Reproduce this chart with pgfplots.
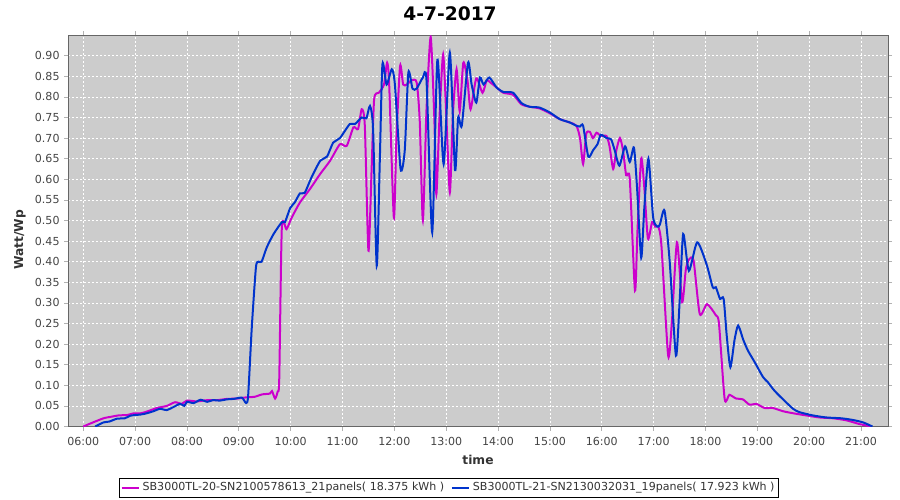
\documentclass[border=0pt]{standalone}
\usepackage{fontspec}
\setmainfont{DejaVu Sans}
\usepackage{pgfplots}
\pgfplotsset{compat=1.18}
\definecolor{plotbg}{HTML}{CCCCCC}
\definecolor{magline}{HTML}{CC00CC}
\definecolor{blueline}{HTML}{0033CC}
\definecolor{ticktext}{HTML}{444444}
\definecolor{labeltext}{HTML}{333333}

\begin{document}
\begin{tikzpicture}[x=1pt,y=1pt]
\useasboundingbox (0,0) rectangle (675,375);
\begin{axis}[
  at={(51.2pt,55.1pt)}, anchor=south west,
  scale only axis, width=614.8pt, height=293.6pt,
  xmin=5.711, xmax=21.52, ymin=0, ymax=0.95,
  axis background/.style={fill=plotbg},
  axis line style={draw=gray!80!black, line width=0.7pt},
  xtick={6,7,8,9,10,11,12,13,14,15,16,17,18,19,20,21},
  xticklabels={06:00,07:00,08:00,09:00,10:00,11:00,12:00,13:00,14:00,15:00,16:00,17:00,18:00,19:00,20:00,21:00},
  ytick={0,0.05,0.10,0.15,0.20,0.25,0.30,0.35,0.40,0.45,0.50,0.55,0.60,0.65,0.70,0.75,0.80,0.85,0.90},
  /pgf/number format/assume math mode=true,
  yticklabel style={/pgf/number format/fixed, /pgf/number format/fixed zerofill, /pgf/number format/precision=2},
  xticklabel style={yshift=-1.5pt},
  ticklabel style={font=\fontsize{8.3}{10}\selectfont, text=ticktext},
  grid=major,
  grid style={white, dash pattern=on 1.5pt off 1.5pt, line width=0.5pt},
  tick align=outside, major tick length=3pt, tick style={gray!60, line width=0.5pt},
  legend style={at={(axis description cs:0.4644,-0.1558)}, anchor=center,
    legend columns=2, draw=black, line width=0.6pt, fill=white,
    font=\fontsize{8.3}{10}\selectfont, inner sep=1.2pt,
    /tikz/every even column/.append style={column sep=3pt}},
  legend image code/.code={\draw[#1, line width=1.5pt] (0pt,0pt) -- (13pt,0pt);},
]
\addplot[magline, line width=1.5pt, smooth, tension=0.4] coordinates {
(6.00,0.000)(6.15,0.008)(6.39,0.020)(6.55,0.024)(6.68,0.027)(6.85,0.028)
(6.97,0.032)(7.10,0.032)(7.22,0.036)(7.42,0.045)(7.61,0.050)(7.77,0.059)
(7.90,0.055)(8.00,0.063)(8.19,0.061)(8.39,0.064)(8.58,0.064)(8.77,0.067)
(8.97,0.068)(9.16,0.071)(9.30,0.072)(9.45,0.078)(9.60,0.080)(9.64,0.086)
(9.70,0.068)(9.75,0.085)(9.78,0.116)(9.83,0.483)(9.92,0.479)(10.02,0.507)
(10.18,0.544)(10.37,0.576)(10.57,0.613)(10.76,0.645)(10.95,0.685)(11.08,0.681)
(11.21,0.726)(11.30,0.722)(11.37,0.770)(11.43,0.730)(11.50,0.427)(11.56,0.620)
(11.61,0.794)(11.70,0.810)(11.80,0.830)(11.86,0.883)(11.90,0.830)(11.99,0.507)
(12.04,0.700)(12.11,0.875)(12.17,0.830)(12.24,0.830)(12.33,0.840)(12.43,0.835)
(12.49,0.740)(12.55,0.500)(12.62,0.770)(12.70,0.945)(12.77,0.750)(12.81,0.564)
(12.87,0.750)(12.94,0.903)(13.00,0.760)(13.07,0.568)(13.13,0.760)(13.20,0.867)
(13.26,0.765)(13.33,0.883)(13.41,0.840)(13.47,0.770)(13.58,0.845)(13.70,0.810)
(13.78,0.840)(13.85,0.835)(13.97,0.823)(14.10,0.810)(14.29,0.805)(14.45,0.782)
(14.61,0.776)(14.80,0.772)(15.00,0.760)(15.19,0.746)(15.38,0.738)(15.51,0.730)
(15.58,0.700)(15.64,0.637)(15.70,0.710)(15.77,0.715)(15.83,0.700)(15.90,0.713)
(15.98,0.705)(16.09,0.705)(16.15,0.680)(16.22,0.625)(16.28,0.670)(16.35,0.700)
(16.41,0.670)(16.47,0.610)(16.54,0.600)(16.64,0.330)(16.69,0.480)(16.76,0.650)
(16.82,0.580)(16.89,0.456)(16.97,0.496)(17.03,0.485)(17.09,0.485)(17.15,0.440)
(17.28,0.172)(17.35,0.250)(17.45,0.447)(17.55,0.302)(17.62,0.380)(17.68,0.405)
(17.77,0.403)(17.89,0.273)(18.03,0.297)(18.20,0.270)(18.26,0.250)(18.37,0.067)
(18.46,0.077)(18.59,0.068)(18.72,0.066)(18.85,0.053)(18.98,0.055)(19.14,0.045)
(19.30,0.045)(19.50,0.037)(19.70,0.032)(19.94,0.027)(20.20,0.022)(20.46,0.020)
(20.72,0.015)(20.97,0.006)(21.20,0.000)
};
\addlegendentry{\textcolor{labeltext}{SB3000TL-20-SN2100578613\_21panels( 18.375 kWh )}}
\addplot[blueline, line width=1.5pt, smooth, tension=0.4] coordinates {
(6.23,0.000)(6.39,0.010)(6.50,0.012)(6.65,0.019)(6.80,0.020)(6.90,0.026)
(7.00,0.028)(7.10,0.029)(7.22,0.032)(7.35,0.037)(7.48,0.043)(7.61,0.040)
(7.75,0.048)(7.87,0.055)(7.95,0.050)(8.00,0.060)(8.13,0.057)(8.26,0.065)
(8.39,0.060)(8.50,0.064)(8.64,0.063)(8.77,0.066)(8.90,0.067)(9.06,0.070)
(9.14,0.057)(9.18,0.075)(9.25,0.240)(9.33,0.386)(9.38,0.400)(9.44,0.400)
(9.54,0.435)(9.67,0.467)(9.83,0.496)(9.89,0.496)(9.99,0.530)(10.08,0.544)
(10.18,0.566)(10.27,0.567)(10.40,0.604)(10.57,0.645)(10.70,0.655)(10.82,0.689)
(10.95,0.700)(11.14,0.734)(11.24,0.734)(11.37,0.750)(11.46,0.748)(11.53,0.778)
(11.59,0.720)(11.66,0.390)(11.72,0.650)(11.77,0.879)(11.85,0.830)(11.95,0.867)
(12.01,0.830)(12.12,0.625)(12.20,0.670)(12.27,0.859)(12.35,0.820)(12.43,0.820)
(12.55,0.847)(12.62,0.840)(12.73,0.471)(12.83,0.890)(12.95,0.637)(13.07,0.907)
(13.17,0.622)(13.23,0.750)(13.30,0.730)(13.42,0.883)(13.49,0.830)(13.58,0.786)
(13.65,0.847)(13.72,0.830)(13.83,0.847)(13.97,0.823)(14.10,0.812)(14.29,0.810)
(14.45,0.785)(14.61,0.776)(14.80,0.774)(15.00,0.762)(15.19,0.746)(15.38,0.738)
(15.51,0.730)(15.58,0.728)(15.64,0.730)(15.74,0.655)(15.83,0.670)(15.92,0.686)
(15.98,0.708)(16.09,0.700)(16.18,0.697)(16.25,0.670)(16.34,0.633)(16.45,0.680)
(16.54,0.642)(16.62,0.677)(16.68,0.580)(16.76,0.410)(16.82,0.530)(16.90,0.650)
(16.99,0.508)(17.07,0.485)(17.12,0.490)(17.21,0.524)(17.31,0.400)(17.43,0.172)
(17.50,0.300)(17.57,0.467)(17.68,0.378)(17.84,0.447)(18.02,0.394)(18.14,0.338)
(18.20,0.338)(18.28,0.310)(18.35,0.310)(18.41,0.220)(18.48,0.144)(18.56,0.210)
(18.63,0.245)(18.73,0.210)(18.82,0.184)(18.95,0.156)(19.11,0.120)(19.20,0.108)
(19.33,0.087)(19.52,0.063)(19.69,0.043)(19.81,0.035)(20.07,0.027)(20.33,0.022)
(20.62,0.020)(20.84,0.016)(21.04,0.010)(21.22,0.000)
};
\addlegendentry{\textcolor{labeltext}{SB3000TL-21-SN2130032031\_19panels( 17.923 kWh )}}
% offset axis lines as in the original chart
\draw[gray!45, line width=0.6pt] ([xshift=-2.4pt]rel axis cs:0,0) -- ([xshift=-2.4pt]rel axis cs:0,1);
\draw[gray!45, line width=0.6pt] ([yshift=-2.4pt]rel axis cs:0,0) -- ([yshift=-2.4pt]rel axis cs:1,0);
\end{axis}
\node[font=\bfseries\fontsize{14}{16}\selectfont] at (337.5,364.5) {4-7-2017};
\node[font=\bfseries\fontsize{9.2}{11}\selectfont, text=labeltext] at (358.5,30) {time};
\node[font=\bfseries\fontsize{9.2}{11}\selectfont, text=labeltext, rotate=90] at (15,195) {Watt/Wp};
\end{tikzpicture}
\end{document}
